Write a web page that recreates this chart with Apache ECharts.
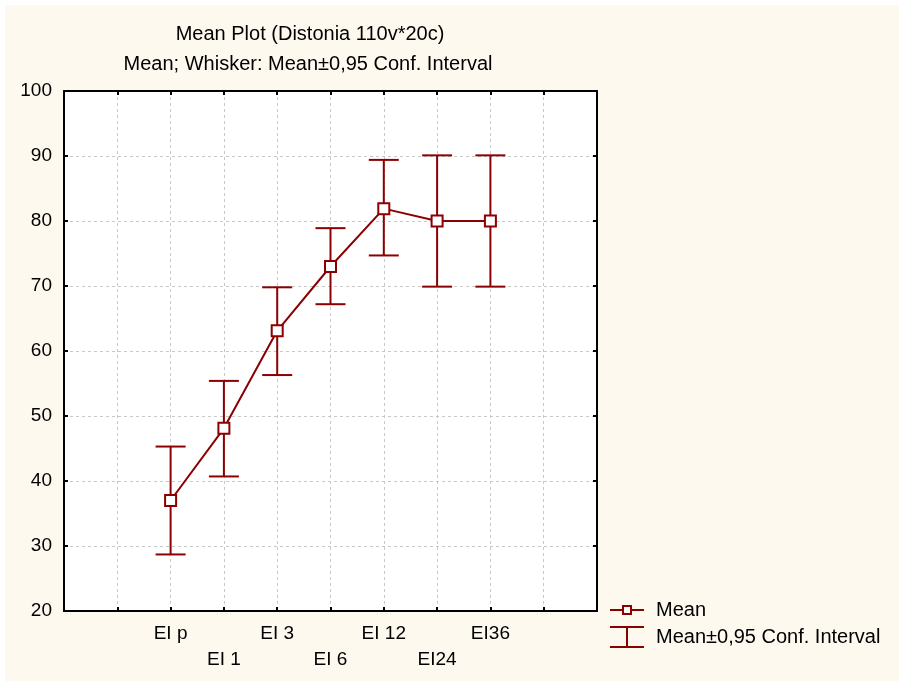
<!DOCTYPE html>
<html>
<head>
<meta charset="utf-8">
<script src="https://cdn.jsdelivr.net/npm/echarts@6/dist/echarts.min.js"></script>
<style>
  html, body { margin: 0; padding: 0; background: #fff; }
  #chart { position: absolute; left: 5px; top: 5px; width: 894px; height: 676px; }
</style>
</head>
<body>
<div id="chart"></div>
<script>
// mean plot, values
var categories = ['EI p', 'EI 1', 'EI 3', 'EI 6', 'EI 12', 'EI24', 'EI36']
var xPos = [2, 3, 4, 5, 6, 7, 8]
var means = [37, 48.1, 63.1, 73, 81.9, 80, 80]
var upper = [45.3, 55.4, 69.8, 78.9, 89.4, 90.1, 90.1]
var lower = [28.7, 40.7, 56.3, 67.2, 74.7, 69.9, 69.9]

var red = '#8b0000'
var font = 'Liberation Sans, Arial, sans-serif'

var chart = echarts.init(document.getElementById('chart'))

var meanData = xPos.map(function (x, i) { return [x, means[i]] })
var ciData = xPos.map(function (x, i) { return [x, lower[i], upper[i]] })

function renderWhisker(params, api) {
  var lo = api.coord([api.value(0), api.value(1)])
  var hi = api.coord([api.value(0), api.value(2)])
  var half = 15
  var style = { stroke: red, lineWidth: 2 }
  return {
    type: 'group',
    children: [
      { type: 'line', shape: { x1: lo[0], y1: lo[1], x2: hi[0], y2: hi[1] }, style: style },
      { type: 'line', shape: { x1: hi[0] - half, y1: hi[1], x2: hi[0] + half, y2: hi[1] }, style: style },
      { type: 'line', shape: { x1: lo[0] - half, y1: lo[1], x2: lo[0] + half, y2: lo[1] }, style: style }
    ]
  }
}

// legend icons: line with hollow square (34 x 10), whisker (34 x 22)
var meanIcon = 'path://M0,4H12V6H0Z M22,4H34V6H22Z M12,0H22V10H12Z M14,2V8H20V2Z'
var ciIcon = 'path://M0,0H34V2H18V20H34V22H0V20H16V2H0Z'

var tickStyle = { show: true, inside: true, length: 4, lineStyle: { color: '#000', width: 2 } }
var frameLine = { show: true, onZero: false, lineStyle: { color: '#000', width: 2 } }
var gridLine = { show: true, lineStyle: { color: '#c8c8c8', width: 1, type: [3, 3] } }
var titleFont = { fontSize: 20, fontWeight: 'normal', color: '#000', fontFamily: font }

var option = {
  backgroundColor: '#fef9ef',
  animation: false,
  textStyle: { fontFamily: font, color: '#000' },
  title: [{
    text: 'Mean Plot (Distonia 110v*20c)',
    left: 300,
    top: 14,
    textAlign: 'center',
    textStyle: titleFont
  }, {
    text: 'Mean; Whisker: Mean\u00b10,95 Conf. Interval',
    left: 298,
    top: 44,
    textAlign: 'center',
    textStyle: titleFont
  }],
  legend: {
    orient: 'vertical',
    left: 605,
    top: 595,
    padding: 0,
    itemWidth: 34,
    itemHeight: 22,
    itemGap: 6,
    textStyle: { fontSize: 20, color: '#000', fontFamily: font, padding: [0, 0, 0, 7] },
    data: [
      { name: 'Mean', icon: meanIcon, itemStyle: { color: red, borderWidth: 0 } },
      { name: 'Mean\u00b10,95 Conf. Interval', icon: ciIcon, itemStyle: { color: red, borderWidth: 0 } }
    ]
  },
  grid: {
    left: 59, top: 86, right: 302, bottom: 70,
    show: true, backgroundColor: '#fff', borderWidth: 0
  },
  xAxis: [{
    type: 'value', min: 0, max: 10, interval: 1,
    axisLine: frameLine,
    axisTick: tickStyle,
    splitLine: gridLine,
    axisLabel: {
      fontSize: 19, color: '#000', margin: 10, lineHeight: 26,
      formatter: function (v) {
        var i = xPos.indexOf(v)
        if (i < 0) return ''
        return i % 2 ? '\n' + categories[i] : categories[i]
      }
    }
  }, {
    type: 'value', position: 'top', min: 0, max: 10, interval: 1,
    axisLine: frameLine, axisTick: tickStyle, axisLabel: { show: false }, splitLine: { show: false }
  }],
  yAxis: [{
    type: 'value', min: 20, max: 100, interval: 10,
    axisLine: frameLine,
    axisTick: tickStyle,
    splitLine: gridLine,
    axisLabel: { fontSize: 19, color: '#000', margin: 12 }
  }, {
    type: 'value', position: 'right', min: 20, max: 100, interval: 10,
    axisLine: frameLine, axisTick: tickStyle, axisLabel: { show: false }, splitLine: { show: false }
  }],
  series: [{
    name: 'Mean\u00b10,95 Conf. Interval',
    type: 'custom',
    renderItem: renderWhisker,
    itemStyle: { color: red },
    encode: { x: 0, y: [1, 2] },
    data: ciData,
    z: 2
  }, {
    name: 'Mean',
    type: 'line',
    data: meanData,
    symbol: 'rect',
    symbolSize: 11,
    lineStyle: { color: red, width: 2 },
    itemStyle: { color: '#fff', borderColor: red, borderWidth: 2 },
    z: 3
  }]
}

chart.setOption(option)
</script>
</body>
</html>
